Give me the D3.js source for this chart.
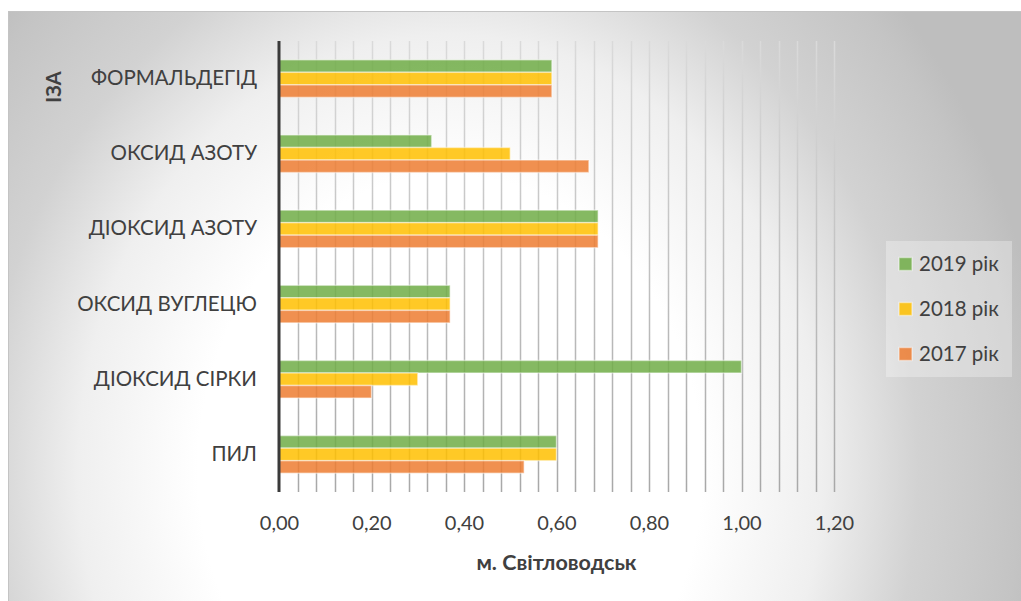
<!DOCTYPE html>
<html>
<head>
<meta charset="utf-8">
<script src="https://cdn.jsdelivr.net/npm/d3@7"></script>
<style>
  html, body { margin: 0; padding: 0; background: #fff; }
  svg { display: block; }
  text { font-family: Lato, "Open Sans", sans-serif; fill: #404040; }
</style>
</head>
<body>
<svg id="chart" width="1021" height="601"></svg>
<script>
// Pollutant categories, top to bottom
const categories = ["ФОРМАЛЬДЕГІД", "ОКСИД АЗОТУ", "ДІОКСИД АЗОТУ", "ОКСИД ВУГЛЕЦЮ", "ДІОКСИД СІРКИ", "ПИЛ"];
// Series values per year (same order as categories)
const years = ["2019 рік", "2018 рік", "2017 рік"];
const values2019 = [0.59, 0.33, 0.69, 0.37, 1.00, 0.60];
const values2018 = [0.59, 0.50, 0.69, 0.37, 0.30, 0.60];
const values2017 = [0.59, 0.67, 0.69, 0.37, 0.20, 0.53];
const xTicks = [0, 0.2, 0.4, 0.6, 0.8, 1.0, 1.2];
const gridStep = 0.04;
const xTitle = "м. Світловодськ";
const yTitle = "ІЗА";

const seriesValues = [values2019, values2018, values2017];
const colors = ["#70AD47", "#FFC000", "#ED7D31"];

const svg = d3.select("#chart");
const W = 1021, H = 601;
const plot = { left: 279, right: 834, top: 41, bottom: 492 };

const defs = svg.append("defs");
const bg = defs.append("radialGradient")
  .attr("id", "bgGrad")
  .attr("gradientUnits", "userSpaceOnUse")
  .attr("cx", 450).attr("cy", 470).attr("r", 600)
  .attr("gradientTransform", "translate(450,470) scale(1,1.17) translate(-450,-470)");
[[0, "#ffffff"], [0.42, "#ffffff"], [0.62, "#efefef"], [0.78, "#d2d2d2"], [0.95, "#c4c4c4"], [1, "#bebebe"]]
  .forEach(([o, c]) => bg.append("stop").attr("offset", o).attr("stop-color", c));

const gridGrad = defs.append("linearGradient")
  .attr("id", "gridGrad")
  .attr("gradientUnits", "userSpaceOnUse")
  .attr("x1", 0).attr("y1", plot.top).attr("x2", 0).attr("y2", plot.bottom);
gridGrad.append("stop").attr("offset", 0).attr("stop-color", "#dadada");
gridGrad.append("stop").attr("offset", 1).attr("stop-color", "#a8a8a8");

// Chart area background and frame
svg.append("rect")
  .attr("x", 8.5).attr("y", 11.5)
  .attr("width", W).attr("height", H)
  .attr("fill", "url(#bgGrad)")
  .attr("stroke", "#c4c4c4").attr("stroke-width", 1);

const x = d3.scaleLinear().domain([0, 1.2]).range([plot.left, plot.right]);
const y = d3.scaleBand().domain(categories).range([plot.top, plot.bottom])
  .paddingInner(0.5).paddingOuter(0.25);
const ySub = d3.scaleBand().domain(years).range([0, y.bandwidth()]);

// Vertical gridlines
const gridVals = d3.range(1, Math.round(1.2 / gridStep) + 1).map(i => i * gridStep);
svg.append("g")
  .selectAll("line")
  .data(gridVals)
  .join("line")
  .attr("x1", d => Math.round(x(d)) + 0.5).attr("x2", d => Math.round(x(d)) + 0.5)
  .attr("y1", plot.top).attr("y2", plot.bottom)
  .attr("stroke", "url(#gridGrad)")
  .attr("stroke-width", 1.5);

// Bars
const barG = svg.append("g");
categories.forEach((cat, ci) => {
  years.forEach((yr, si) => {
    barG.append("rect")
      .attr("x", x(0))
      .attr("y", y(cat) + ySub(yr))
      .attr("width", x(seriesValues[si][ci]) - x(0))
      .attr("height", ySub.bandwidth())
      .attr("fill", colors[si])
      .attr("fill-opacity", 0.85)
      .attr("stroke", "#ffffff")
      .attr("stroke-opacity", 0.45)
      .attr("stroke-width", 1.5);
  });
});

// Vertical axis line
svg.append("line")
  .attr("x1", plot.left).attr("x2", plot.left)
  .attr("y1", plot.top).attr("y2", plot.bottom)
  .attr("stroke", "#3a3a3a").attr("stroke-width", 3);

// Category axis
const yAxis = svg.append("g")
  .attr("transform", `translate(${plot.left},0)`)
  .call(d3.axisLeft(y).tickSize(0).tickPadding(22));
yAxis.select(".domain").remove();
yAxis.selectAll("text")
  .style("font-family", "Lato, 'Open Sans', sans-serif")
  .style("font-size", "20.5px")
  .style("fill", "#404040");

// Value axis
const fmt = d => d3.format(".2f")(d).replace(".", ",");
const xAxis = svg.append("g")
  .attr("transform", `translate(0,${plot.bottom})`)
  .call(d3.axisBottom(x).tickValues(xTicks).tickFormat(fmt).tickSize(0).tickPadding(24));
xAxis.select(".domain").remove();
xAxis.selectAll("text")
  .style("font-family", "Lato, 'Open Sans', sans-serif")
  .style("font-size", "20px")
  .style("fill", "#404040");

// Axis titles
svg.append("text")
  .attr("x", (plot.left + plot.right) / 2)
  .attr("y", 570)
  .attr("text-anchor", "middle")
  .style("font-size", "21.5px")
  .style("font-weight", "bold")
  .text(xTitle);

svg.append("text")
  .attr("transform", "translate(61,87) rotate(-90)")
  .attr("text-anchor", "middle")
  .style("font-size", "20px")
  .style("font-weight", "bold")
  .text(yTitle);

// Legend
const legend = svg.append("g");
legend.append("rect")
  .attr("x", 886).attr("y", 241).attr("width", 126).attr("height", 136)
  .attr("fill", "#ffffff").attr("fill-opacity", 0.3);
years.forEach((yr, i) => {
  const cy = 264 + i * 45;
  legend.append("rect")
    .attr("x", 899).attr("y", cy - 6.5).attr("width", 13).attr("height", 13)
    .attr("fill", colors[i]).attr("fill-opacity", 0.85)
    .attr("stroke", "#ffffff").attr("stroke-opacity", 0.45).attr("stroke-width", 1.5);
  legend.append("text")
    .attr("x", 919).attr("y", cy)
    .attr("dy", "0.35em")
    .style("font-size", "20.5px")
    .text(yr);
});
</script>
</body>
</html>
